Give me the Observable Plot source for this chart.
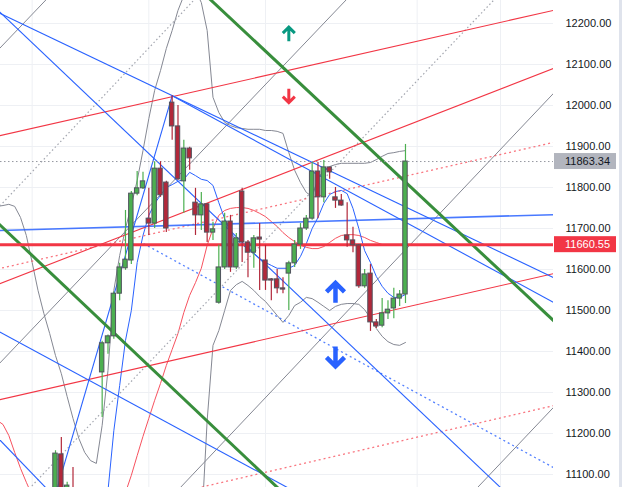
<!DOCTYPE html>
<html><head><meta charset="utf-8">
<script src="https://cdn.jsdelivr.net/npm/d3@7"></script>
<script src="https://cdn.jsdelivr.net/npm/@observablehq/plot@0.6"></script>
<style>
html,body{margin:0;padding:0;background:#fff;}
#chart{width:622px;height:487px;position:relative;overflow:hidden;}
</style></head><body><div id="chart"></div>
<script>
// ---- candles (index 0..60) ----
const opens  = [11020,11149,11030,11065,11010,11030,11000,11040,11349,11420,11437,11541,11603,11622,11785,11798,11724,11712,11846,11812,12007,11949,11815,11895,11763,11732,11759,11690,11519,11605,11717,11605,11790,11666,11641,11678,11622,11576,11576,11554,11590,11615,11661,11700,11724,11839,11776,11849,11776,11768,11683,11671,11659,11559,11590,11471,11463,11493,11505,11529,11539];
const highs  = [11158,11190,11081,11117,11050,11060,11045,11062,11425,11440,11545,11615,11744,11790,11839,11837,11798,11863,11863,11815,12024,12000,11915,11898,11798,11788,11761,11715,11659,11737,11732,11688,11798,11671,11683,11712,11659,11578,11600,11580,11620,11671,11712,11732,11861,11861,11866,11849,11800,11783,11763,11703,11661,11600,11612,11478,11529,11524,11554,11549,11905];
const lows   = [10990,11000,11010,10995,10960,10990,10950,11010,11239,11393,11430,11524,11598,11612,11780,11795,11683,11700,11776,11690,11915,11817,11737,11842,11683,11695,11666,11671,11515,11600,11593,11600,11617,11580,11603,11549,11549,11524,11541,11541,11500,11605,11649,11695,11720,11724,11763,11820,11749,11754,11654,11641,11554,11554,11449,11456,11458,11478,11480,11510,11517];
const closes = [11151,11030,11073,11010,11030,11000,11040,11050,11420,11437,11541,11605,11624,11785,11798,11815,11712,11846,11781,11700,11949,11820,11895,11871,11732,11759,11690,11698,11605,11717,11605,11676,11666,11641,11676,11673,11573,11573,11554,11551,11615,11661,11700,11724,11839,11776,11849,11837,11768,11756,11671,11659,11559,11588,11471,11461,11493,11502,11529,11539,11863.34];

// ---- axis / grid ----
const yTickValues = [11100,11200,11300,11400,11500,11600,11700,11800,11900,12000,12100,12200];
const gridXs = [-4, 16, 36, 62, 76.3];

// ---- indicators (start index + values) ----
const bbUpperStart = -10;
const bbUpper = [11754,11756,11759,11754,11727,11683,11617,11549,11493,11444,11390,11346,11290,11237,11188,11154,11134,11127,11220,11354,11549,11634,11700,11756,11817,11890,11968,12037,12085,12139,12183,12232,12268,12293,12281,12251,12183,12020,11983,11959,11951,11946,11944,11942,11942,11942,11939,11939,11937,11932,11885,11842,11812,11788,11778,11822,11842,11851,11856,11859,11859,11859,11859,11859,11861,11868,11876,11883,11885,11888,11890];
const bbLowerStart = 25;
const bbLower = [10963,11232,11415,11451,11500,11549,11563,11571,11561,11549,11534,11522,11505,11488,11471,11488,11512,11520,11532,11529,11520,11510,11500,11510,11515,11517,11517,11515,11502,11481,11456,11437,11424,11417,11415,11422];
const blueMaStart = 9;
const blueMa = [11061,11207,11317,11427,11500,11617,11683,11732,11761,11781,11800,11807,11815,11820,11837,11829,11820,11817,11805,11763,11724,11690,11673,11661,11649,11639,11627,11617,11610,11603,11603,11603,11610,11632,11663,11700,11727,11761,11783,11790,11793,11785,11749,11700,11646,11617,11583,11559,11542,11532,11532,11539];
const redMaStart = -10;
const redMa = [11232,11222,11195,11154,11115,11081,11049,11024,11000,10976,10951,10927,10903,10890,10878,10878,10885,10895,10915,10951,10993,11037,11056,11098,11146,11193,11237,11281,11322,11366,11405,11444,11495,11537,11568,11603,11659,11700,11732,11744,11749,11751,11751,11749,11744,11737,11729,11717,11705,11690,11678,11668,11659,11654,11651,11651,11656,11666,11676,11683,11685,11685,11683,11678,11671,11666,11661,11659,11659,11659,11661];

// ---- drawings: [i1, price1, i2, price2] ----
const redLines    = [[-10,11925,86,12234],[-10,11563,86,12094],[-10,11281,86,11592]];
const redDotted   = [[-10,11601,86,11912],[-10,10954,86,11270]];
const blueLines   = [[-10,12228,86,11576],[-10,12234,86,10937],[20,12024,86,11515],[-1,11003,20,12024],[-10,11451,42,11051],[-10,11191,-1,11058]];
const blueFlat    = [[-10,11695,86,11734]];
const blueDotted  = [[15.1,11663,86,11112]];
const greenLines  = [[25,12279,86,11467],[-10,11715,40,11042]];
const grayLines   = [[-10,12133,0,12282],[-10,11365,52,12290],[20,11047,86,12039],[71,11048,86,11273]];
const grayDotted  = [[-10,11748,24,12261],[-5,11058,76,12270]];
const hLevel = 11660.55;
const lastPrice = 11863.34;
// arrow markers: centre index, centre price, direction
const arrowsSmall = [{i:40, p:12174, dir:"up", color:"#089981"},{i:40, p:12024, dir:"down", color:"#f23645"}];
const arrowsBig   = [{i:48, p:11543, dir:"up"},{i:48, p:11388, dir:"down"}];

// ---- layout ----
const W = 622, H = 487, MR = 69;
const xDomain = [-9.429, 85.376];
const yDomain = [11068.3, 12256.1];

const series = (start, vals) => vals.map((v,k)=>({i:start+k, v}));
const link = (arr, o) => Plot.link(arr, {x1:d=>d[0], y1:d=>d[1], x2:d=>d[2], y2:d=>d[3], clip:true, ...o});
const candles = opens.map((o,k)=>({i:k, o, h:highs[k], l:lows[k], c:closes[k]}));
const GREEN = "#4caf50", RED = "#b2283a";
const col = d => d.c >= d.o ? GREEN : RED;

// arrow glyph symbol (shaft + chevron), pointing up; rotated 180 for down
const arrowSymbol = (h, w) => ({
  draw(ctx) {
    ctx.moveTo(0, h / 2);
    ctx.lineTo(0, -h / 2 + 1.5);
    ctx.moveTo(-w, -h / 2 + w);
    ctx.lineTo(0, -h / 2);
    ctx.lineTo(w, -h / 2 + w);
  }
});

const chart = Plot.plot({
  width: W, height: H,
  marginLeft: 0, marginRight: MR, marginTop: 0, marginBottom: 0,
  style: {fontFamily: "'Liberation Sans', Arial, sans-serif", fontSize: "11px", color: "#131722", background: "#fff"},
  x: {domain: xDomain, axis: null},
  y: {domain: yDomain, axis: "right", ticks: yTickValues, tickFormat: d => d.toFixed(2), tickSize: 0, tickPadding: 12, label: null},
  marks: [
    Plot.ruleY(yTickValues, {stroke: "#eef0f4"}),
    Plot.ruleX(gridXs, {stroke: "#eef0f4"}),
    // indicators
    Plot.line(series(bbUpperStart, bbUpper), {x:"i", y:"v", stroke:"#858893", strokeWidth:1, clip:true}),
    Plot.line(series(bbLowerStart, bbLower), {x:"i", y:"v", stroke:"#858893", strokeWidth:1, clip:true}),
    Plot.line(series(redMaStart, redMa), {x:"i", y:"v", stroke:"#f7525f", strokeWidth:1, clip:true}),
    Plot.line(series(blueMaStart, blueMa), {x:"i", y:"v", stroke:"#2962ff", strokeWidth:1, clip:true}),
    // drawings
    link(grayLines, {stroke:"#858893", strokeWidth:1}),
    link(grayDotted, {stroke:"#a3a6af", strokeWidth:1.2, strokeDasharray:"1.5,2.5"}),
    link(redDotted, {stroke:"#f7525f", strokeWidth:1.3, strokeDasharray:"2,3", strokeOpacity:0.8}),
    link(blueDotted, {stroke:"#2962ff", strokeWidth:1.3, strokeDasharray:"2,3", strokeOpacity:0.8}),
    link(redLines, {stroke:"#f23645", strokeWidth:1.1}),
    link(blueLines, {stroke:"#2962ff", strokeWidth:1.1}),
    link(blueFlat, {stroke:"#2962ff", strokeWidth:1.6, strokeOpacity:0.85}),
    link(greenLines, {stroke:"#388e3c", strokeWidth:3}),
    Plot.ruleY([lastPrice], {stroke:"#9598a1", strokeDasharray:"1.5,2.5", strokeWidth:1}),
    Plot.ruleY([hLevel], {stroke:"#f23645", strokeWidth:3}),
    // candles
    Plot.ruleX(candles, {x:"i", y1:"l", y2:"h", stroke: col, strokeWidth:1.2, clip:true}),
    Plot.rect(candles, {x1:d=>d.i-0.38, x2:d=>d.i+0.38, y1:"o", y2:"c", fill: col, stroke:"#50535e", strokeWidth:1, clip:true}),
    // arrow markers
    Plot.dot(arrowsSmall, {x:"i", y:"p", symbol: arrowSymbol(14, 6), rotate: d => d.dir === "up" ? 0 : 180,
      fill:"none", stroke:"color", strokeWidth:3, strokeLinejoin:"miter", strokeLinecap:"butt"}),
    Plot.dot(arrowsBig, {x:"i", y:"p", symbol: arrowSymbol(20, 9), rotate: d => d.dir === "up" ? 0 : 180,
      fill:"none", stroke:"#2962ff", strokeWidth:4.5, strokeLinejoin:"miter", strokeLinecap:"butt"})
  ]
});

document.getElementById("chart").appendChild(chart);

// price tags on the right scale, placed with the plot's own y scale
const ys = chart.scale("y");
const svg = d3.select(chart);
const frameRight = W - MR;
const tags = [{v:lastPrice, bg:"#b2b5be", fg:"#131722"}, {v:hLevel, bg:"#f23645", fg:"#ffffff"}];
for (const t of tags) {
  const yy = ys.apply(t.v);
  svg.append("rect").attr("x", frameRight + 1).attr("y", yy - 8).attr("width", 62).attr("height", 16).attr("fill", t.bg);
  svg.append("text").attr("x", frameRight + 12).attr("y", yy).attr("dy", "0.35em")
    .attr("text-anchor", "start")
    .attr("fill", t.fg).attr("font-size", 11).attr("font-family", "'Liberation Sans', Arial, sans-serif")
    .text(t.v.toFixed(2));
}
svg.append("rect").attr("x", W - 3).attr("y", 0).attr("width", 3).attr("height", H).attr("fill", "#dfe3ec");
</script>
</body></html>
